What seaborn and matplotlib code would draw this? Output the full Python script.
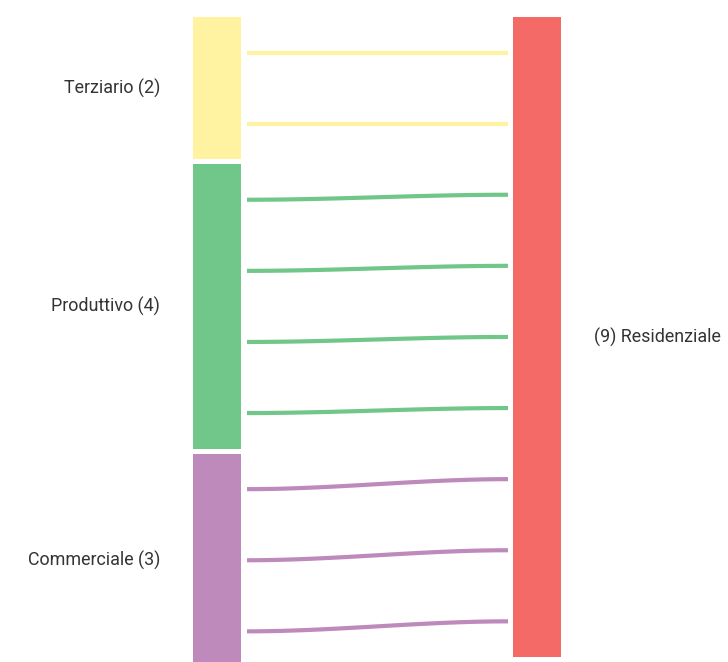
import numpy as np
import pandas as pd
import matplotlib
matplotlib.use("Agg")
import matplotlib.pyplot as plt
from matplotlib.patches import Rectangle
import seaborn as sns

# ---- data ----
sources = ["Terziario", "Produttivo", "Commerciale"]
source_counts = [2, 4, 3]
target = "Residenziale"
target_count = 9
source_colors = ["#FFF2A1", "#71C689", "#BE89BB"]
target_color = "#F46A67"

sns.set_theme(style="white")
plt.rcParams["font.family"] = ["Roboto", "DejaVu Sans"]

W, H = 728, 662
fig = plt.figure(figsize=(W / 100, H / 100), dpi=100)
ax = fig.add_axes([0, 0, 1, 1])
ax.set_xlim(0, W)
ax.set_ylim(H, 0)
ax.axis("off")

# layout params
top = 17
unit = 71.1
gap = 5
node_w = 48
left_x = 193
right_x = 513
label_off = 33
text_color = "#333333"
fs = 12.9

# left nodes
left_slots = []
y = top
for name, n, col in zip(sources, source_counts, source_colors):
    h = n * unit
    ax.add_patch(Rectangle((left_x, y), node_w, h, facecolor=col, edgecolor="none"))
    ax.text(left_x - label_off, y + h / 2, f"{name} ({n})", ha="right", va="center",
            fontsize=fs, color=text_color)
    for k in range(n):
        left_slots.append((name, y + (k + 0.5) * unit))
    y += h + gap

# right node
total = sum(source_counts)
rh = target_count * unit
ax.add_patch(Rectangle((right_x, top), node_w, rh, facecolor=target_color, edgecolor="none"))
ax.text(right_x + node_w + label_off, top + rh / 2, f"({target_count}) {target}", ha="left",
        va="center", fontsize=fs, color=text_color)
right_slots = [top + (k + 0.5) * unit for k in range(total)]

# links
x0 = left_x + node_w + 6
x1 = right_x - 5
t = np.linspace(0, 1, 60)
s = 3 * t**2 - 2 * t**3
rows = []
for i, ((name, y0), y1) in enumerate(zip(left_slots, right_slots)):
    for xx, ss in zip(x0 + (x1 - x0) * t, s):
        rows.append({"link": i, "source": name, "x": xx, "y": y0 + (y1 - y0) * ss})
df = pd.DataFrame(rows)
sns.lineplot(data=df, x="x", y="y", units="link", hue="source", estimator=None,
             palette=dict(zip(sources, source_colors)), linewidth=3, legend=False,
             sort=False, ax=ax, solid_capstyle="butt")
ax.set_xlim(0, W)
ax.set_ylim(H, 0)
ax.axis("off")

fig.savefig("out.png", dpi=100)
